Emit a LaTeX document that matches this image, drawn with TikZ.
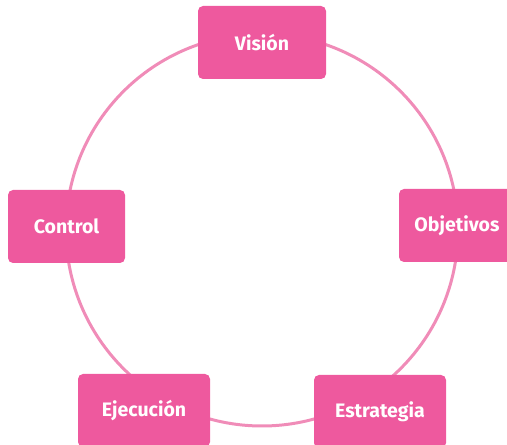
\documentclass[tikz,border=0pt]{standalone}
\usepackage{fontspec}
\setmainfont{Fira Sans}
\usepackage{xcolor}
\usetikzlibrary{positioning}

\definecolor{boxpink}{RGB}{238,89,158}
\definecolor{ringpink}{RGB}{240,140,184}

\begin{document}
\begin{tikzpicture}[
    x=1pt, y=1pt,
    font=\fontsize{19.5}{22}\selectfont\bfseries,
    block/.style={fill=boxpink, text=white, rounded corners=5pt, minimum height=73pt, align=center, inner sep=0pt},
    ring/.style={draw=ringpink, line width=3pt}
]
\useasboundingbox (0,0) rectangle (507,445);

% Ring
\coordinate (center) at (262,215);
\draw[ring] (center) circle (196);

% Stages
\node[block, minimum width=128pt] (vision) at (262,402.5) {Visión};
\node[block, minimum width=117pt] (control) at (66.5,218.5) {Control};
\node[block, minimum width=116pt] (objetivos) at (457,219.5) {Objetivos};
\node[block, minimum width=132pt] (ejecucion) at (144,34.5) {Ejecución};
\node[block, minimum width=132pt] (estrategia) at (380,33.5) {Estrategia};
\end{tikzpicture}
\end{document}
